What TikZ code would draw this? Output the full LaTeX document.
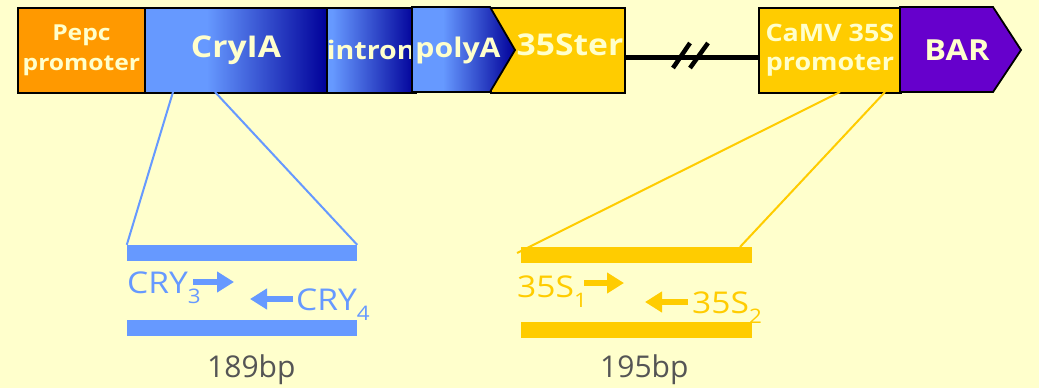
\documentclass[tikz,border=0pt]{standalone}
\usepackage{fontspec}
\setmainfont{Open Sans}
\newfontfamily\topfont{Open Sans}[FakeStretch=1.12]
\usetikzlibrary{arrows.meta}
\definecolor{bg}{HTML}{FFFFCC}
\definecolor{orng}{HTML}{FF9900}
\definecolor{lblue}{HTML}{6699FF}
\definecolor{navy}{HTML}{000099}
\definecolor{ylw}{HTML}{FFCC00}
\definecolor{purp}{HTML}{6600CC}
\definecolor{txtc}{HTML}{FFFFCC}
\definecolor{gry}{HTML}{555555}
\pgfdeclarehorizontalshading{cryshade}{100bp}{color(0bp)=(lblue); color(25bp)=(lblue); color(42bp)=(lblue); color(75bp)=(navy); color(100bp)=(navy)}
\pgfdeclarehorizontalshading{intshade}{100bp}{color(0bp)=(lblue); color(28bp)=(lblue); color(75bp)=(navy); color(100bp)=(navy)}
\pgfdeclarehorizontalshading{polyshade}{100bp}{color(0bp)=(lblue); color(25bp)=(lblue); color(40bp)=(lblue); color(75bp)=(navy); color(100bp)=(navy)}
\tikzset{
  box/.style={draw=black, line width=1.8pt, minimum height=85pt, anchor=north west, inner sep=0pt},
  toptext/.style={text=txtc, inner sep=0pt},
  primer/.style={line width=6.5pt, -{Triangle[length=17pt,width=20pt]}},
  bluebar/.style={fill=lblue, minimum width=230pt, minimum height=16pt, inner sep=0pt},
  ylwbar/.style={fill=ylw, minimum width=231pt, minimum height=16pt, inner sep=0pt},
  lowtext/.style={anchor=base west, inner sep=0pt, font=\topfont\fontsize{30}{30}\selectfont},
  bptext/.style={anchor=base west, inner sep=0pt, text=gry, font=\fontsize{30}{30}\selectfont}
}
\begin{document}
\begin{tikzpicture}[x=1pt,y=-1pt]
\fill[bg] (0,0) rectangle (1039,388);
\useasboundingbox (0,0) rectangle (1039,388);
% top construct
\node[box, fill=orng, minimum width=127pt, align=center, toptext, font=\topfont\bfseries\fontsize{22}{30}\selectfont] (pepc) at (17,7) {Pepc\\promoter};
\node[box, shade, shading=cryshade, minimum width=182pt, toptext, font=\topfont\bfseries\fontsize{30}{30}\selectfont] (cry) at (144,7) {CryIA};
\node[box, shade, shading=intshade, minimum width=86pt, toptext, font=\topfont\bfseries\fontsize{25.5}{30}\selectfont] (intron) at (326,7) {intron};
\node[box, fill=ylw, minimum width=134pt] (ster) at (490,7) {};
\shade[shading=polyshade, draw=black, line width=1.8pt] (412,7) -- (490,7) -- (515,50) -- (490,92) -- (412,92) -- cycle;
\node[toptext, font=\topfont\bfseries\fontsize{27}{30}\selectfont] (polyt) at (458,50) {polyA};
\node[toptext, font=\topfont\bfseries\fontsize{30}{30}\selectfont] (stert) at (570,45) {35Ster};
\node[box, fill=ylw, minimum width=142pt, align=center, toptext, font=\topfont\bfseries\fontsize{24}{29}\selectfont] (camv) at (758,7) {CaMV 35S\\promoter};
\fill[purp, draw=black, line width=1.8pt] (900,7) -- (993,7) -- (1021,50) -- (993,92) -- (900,92) -- cycle;
\node[toptext, font=\topfont\bfseries\fontsize{29}{30}\selectfont] (bar) at (957,50) {BAR};
% linker line with break
\coordinate (l1) at (624,57);
\coordinate (l2) at (758,57);
\draw[line width=5pt] (l1) -- (l2);
\coordinate (s1a) at (673,68); \coordinate (s1b) at (690,43);
\coordinate (s2a) at (690,68); \coordinate (s2b) at (708,43);
\draw[line width=4.5pt] (s1a) -- (s1b);
\draw[line width=4.5pt] (s2a) -- (s2b);
% blue amplicon
\node[bluebar] (bb1) at (242,253) {};
\node[bluebar] (bb2) at (242,327.5) {};
\coordinate (cryL) at (173,92);
\coordinate (cryR) at (215,92);
\draw[lblue, line width=2pt] (cryL) -- (bb1.north west);
\draw[lblue, line width=2pt] (cryR) -- (bb1.north east);
\node[lowtext, text=lblue] (cry3) at (127,293) {CRY\raisebox{-10pt}{\fontsize{20}{20}\selectfont 3}};
\coordinate (a1s) at (193,282); \coordinate (a1e) at (234,282);
\draw[primer, lblue] (a1s) -- (a1e);
\coordinate (a2s) at (293,299); \coordinate (a2e) at (250,299);
\draw[primer, lblue] (a2s) -- (a2e);
\node[lowtext, text=lblue] (cry4) at (296,310) {CRY\raisebox{-10pt}{\fontsize{20}{20}\selectfont 4}};
\node[bptext] (bp1) at (207,377) {189bp};
% yellow amplicon
\node[ylwbar] (yb1) at (636.5,255) {};
\node[ylwbar] (yb2) at (636.5,330) {};
\coordinate (camL) at (840,92);
\coordinate (camR) at (885,92);
\coordinate (yl) at (517,253);
\coordinate (yr) at (740,247);
\draw[ylw, line width=2pt] (camL) -- (yl);
\draw[ylw, line width=2pt] (camR) -- (yr);
\node[lowtext, text=ylw] (s351) at (517,297) {35S\raisebox{-10pt}{\fontsize{20}{20}\selectfont 1}};
\coordinate (b1s) at (584,283); \coordinate (b1e) at (624,283);
\draw[primer, ylw] (b1s) -- (b1e);
\coordinate (b2s) at (688,302); \coordinate (b2e) at (645,302);
\draw[primer, ylw] (b2s) -- (b2e);
\node[lowtext, text=ylw] (s352) at (692,313) {35S\raisebox{-10pt}{\fontsize{20}{20}\selectfont 2}};
\node[bptext] (bp2) at (600,377) {195bp};
\end{tikzpicture}
\end{document}
